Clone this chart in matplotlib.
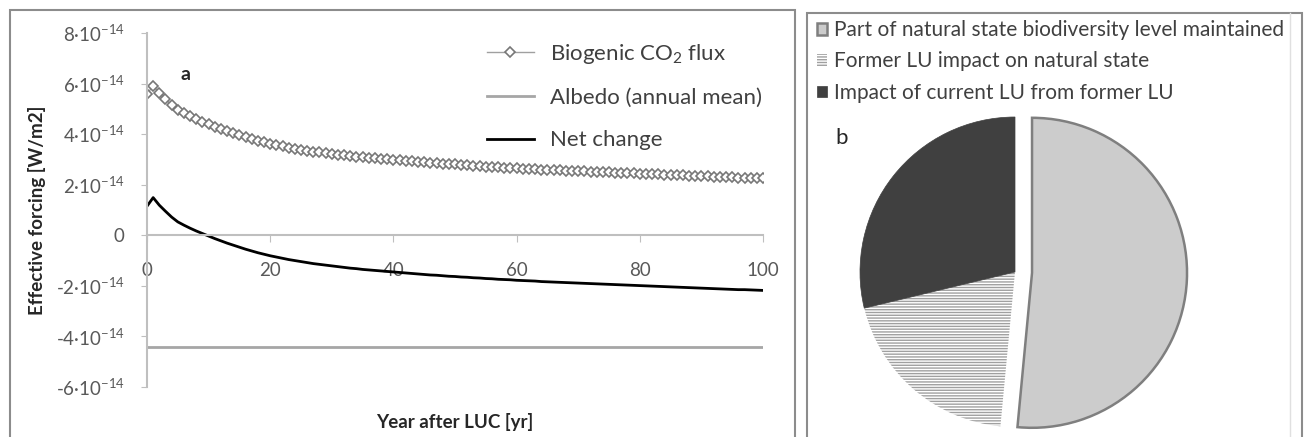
import numpy as np
import matplotlib
matplotlib.use('Agg')
import matplotlib.pyplot as plt
from matplotlib.patches import Rectangle
from matplotlib.lines import Line2D

plt.rcParams['font.family'] = ['Lato', 'DejaVu Sans']
plt.rcParams['mathtext.fontset'] = 'custom'
plt.rcParams['mathtext.rm'] = 'Lato'
plt.rcParams['mathtext.it'] = 'Lato:italic'
plt.rcParams['mathtext.bf'] = 'Lato:bold'
plt.rcParams['axes.unicode_minus'] = False

# panel a: effective forcing [1e-14 W/m2] by year after LUC
years = list(range(0, 101))
biogenic = [5.58, 5.92, 5.62, 5.38, 5.15, 4.96, 4.83, 4.71, 4.60, 4.50,
            4.40, 4.30, 4.21, 4.12, 4.04, 3.96, 3.88, 3.81, 3.74, 3.68,
            3.62, 3.57, 3.52, 3.47, 3.43, 3.39, 3.35, 3.31, 3.28, 3.25,
            3.22, 3.19, 3.16, 3.13, 3.11, 3.08, 3.06, 3.04, 3.02, 3.00,
            2.98, 2.96, 2.94, 2.92, 2.90, 2.88, 2.86, 2.85, 2.83, 2.81,
            2.80, 2.78, 2.77, 2.75, 2.74, 2.72, 2.71, 2.69, 2.68, 2.67,
            2.65, 2.64, 2.63, 2.62, 2.60, 2.59, 2.58, 2.57, 2.56, 2.55,
            2.54, 2.53, 2.52, 2.51, 2.50, 2.49, 2.48, 2.47, 2.46, 2.45,
            2.44, 2.43, 2.42, 2.41, 2.40, 2.39, 2.38, 2.37, 2.36, 2.35,
            2.34, 2.33, 2.32, 2.31, 2.30, 2.29, 2.28, 2.28, 2.27, 2.26,
            2.25]
albedo = -4.43
net_change = [b + albedo for b in biogenic]

yticks = [-6, -4, -2, 0, 2, 4, 6, 8]
xticks = [0, 20, 40, 60, 80, 100]

# panel b: pie shares [%]
pie_labels = ['Part of natural state biodiversity level maintained',
              'Former LU impact on natural state',
              'Impact of current LU from former LU']
pie_values = [51.5, 19.75, 28.75]

W, H = 1304, 437
fig = plt.figure(figsize=(W / 100, H / 100), dpi=100)


def fx(px):
    return px / W


def fy(py):
    return 1 - py / H


# panel frames
fig.patches.append(Rectangle((fx(10), fy(460)), fx(795) - fx(10), fy(10) - fy(460),
                             transform=fig.transFigure, fill=False, ec='#8c8c8c', lw=1.5))
fig.patches.append(Rectangle((fx(807), fy(460)), fx(1302) - fx(807), fy(13) - fy(460),
                             transform=fig.transFigure, fill=False, ec='#8c8c8c', lw=1.5))
fig.lines.append(Line2D([fx(1290), fx(1290)], [fy(13), fy(437)], transform=fig.transFigure,
                        color='#e0e0e0', lw=1))

# ---- panel a
ax = fig.add_axes([fx(147), fy(387), fx(763) - fx(147), fy(33) - fy(387)])
ax.plot(years, biogenic, color='#a0a0a0', lw=1, marker='D', ms=5.2, mfc='white',
        mec='#777777', mew=1.2, label='Biogenic CO$_2$ flux')
ax.plot([0, 100], [albedo, albedo], color='#a6a6a6', lw=2, label='Albedo (annual mean)')
ax.plot(years, net_change, color='black', lw=2, label='Net change')

ax.set_xlim(0, 100)
ax.set_ylim(-6, 8)
ax.spines['top'].set_visible(False)
ax.spines['right'].set_visible(False)
ax.spines['bottom'].set_position(('data', 0))
for s in ['left', 'bottom']:
    ax.spines[s].set_color('#bfbfbf')
    ax.spines[s].set_linewidth(1.5)
ax.set_xticks(xticks)
ax.set_yticks(yticks)
ax.set_yticklabels(['0' if v == 0 else '%d·10$^{-14}$' % v for v in yticks])
ax.tick_params(axis='y', direction='out', length=4, color='#bfbfbf', pad=12,
               labelsize=13.5, labelcolor='#595959')
ax.tick_params(axis='x', direction='out', length=5, color='#bfbfbf', pad=14,
               labelsize=13.5, labelcolor='#595959')
ax.patch.set_alpha(0)

fig.text(fx(37), fy(210), 'Effective forcing [W/m2]', rotation=90, ha='center', va='center',
         fontsize=13.5, fontweight='bold', color='#262626')
fig.text(fx(455), fy(422), 'Year after LUC [yr]', ha='center', va='center',
         fontsize=13.5, fontweight='bold', color='#262626')
fig.text(fx(185), fy(75), 'a', ha='center', va='center', fontsize=14, fontweight='bold',
         color='#262626')

ax.legend(loc='upper left', bbox_to_anchor=(fx(487), fy(42)), bbox_transform=fig.transFigure,
          frameon=False, fontsize=16, handlelength=2.1, handletextpad=0.75,
          labelspacing=1.0, borderpad=0, borderaxespad=0, labelcolor='#404040')

# ---- panel b
pax = fig.add_axes([fx(860), fy(427), fx(1170) - fx(860), fy(117) - fy(427)])
wedges, _ = pax.pie(pie_values, startangle=90, counterclock=False,
                    explode=[0.11, 0, 0],
                    colors=['#cccccc', 'white', '#404040'])
wedges[0].set_edgecolor('#7f7f7f')
wedges[0].set_linewidth(1.8)
wedges[1].set_hatch('------')
wedges[1].set_edgecolor('#a0a0a0')
wedges[1].set_linewidth(0)
wedges[2].set_edgecolor('#404040')
wedges[2].set_linewidth(0.5)
for w in wedges:
    w.set_clip_on(False)
pax.set_xlim(-1, 1)
pax.set_ylim(-1, 1)
pax.set_aspect('equal')

pax.legend(wedges, pie_labels, loc='upper left', bbox_to_anchor=(fx(817), fy(20)),
           bbox_transform=fig.transFigure, frameon=False, fontsize=15,
           handlelength=0.5, handleheight=0.5, handletextpad=0.3,
           labelspacing=0.55, borderpad=0, borderaxespad=0, labelcolor='#404040')
fig.text(fx(842), fy(138), 'b', ha='center', va='center', fontsize=16, color='#262626')

plt.savefig('out.png', dpi=100)
